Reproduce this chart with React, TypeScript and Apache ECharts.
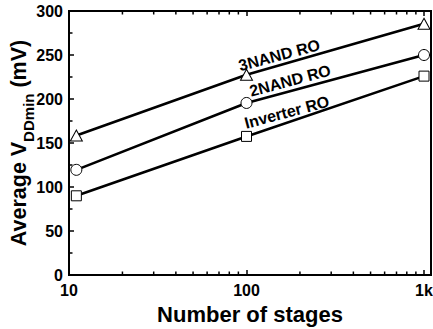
import React, { useEffect, useRef } from "react";
import * as echarts from "echarts";

const stages = [11, 100, 1000];
const inverterRO = [90, 157.5, 226];
const nand2RO = [119.5, 195.5, 250];
const nand3RO = [158.5, 227.5, 285.5];
const seriesNames = ["Inverter RO", "2NAND RO", "3NAND RO"];
const yTicks = { min: 0, max: 300, interval: 50 };
const xRange = { min: 10, max: 1095 };
const minorXTicks = [20, 30, 40, 50, 60, 70, 80, 90, 200, 300, 400, 500, 600, 700, 800, 900];
const xTickLabels: Record<number, string> = { 10: "10", 100: "100", 1000: "1k" };

const FONT = "'Liberation Sans', Arial, Helvetica, sans-serif";

export default function App() {
  const ref = useRef<HTMLDivElement>(null);
  useEffect(() => {
    if (!ref.current) return;
    const chart = echarts.init(ref.current, null, { renderer: "svg" });
    const pair = (vals: number[]) => stages.map((s, i) => [s, vals[i]]);
    const lineSeries = (
      name: string,
      vals: number[],
      symbol: string,
      symbolSize: any,
      labelPos: number[]
    ) => ({
      type: "line",
      name,
      data: pair(vals).map((d, i) =>
        i === 1
          ? {
              value: d,
              label: {
                show: true,
                formatter: name,
                position: labelPos,
                rotate: 15,
                align: "center",
                verticalAlign: "middle",
                fontSize: 16,
                fontWeight: "bold",
                fontFamily: FONT,
                color: "#000",
              },
            }
          : { value: d }
      ),
      symbol,
      symbolSize,
      showAllSymbol: true,
      lineStyle: { color: "#000", width: 2.6 },
      itemStyle: { color: "#fff", borderColor: "#000", borderWidth: 1 },
      z: 3,
    });

    const axisFont = { fontSize: 16, fontWeight: "bold", fontFamily: FONT, color: "#000" };

    chart.setOption({
      animation: false,
      textStyle: { fontFamily: FONT, color: "#000" },
      grid: {
        left: 69,
        right: 2,
        top: 11,
        bottom: 54,
        containLabel: false,
        outerBoundsMode: "none",
        show: true,
        borderColor: "#000",
        borderWidth: 2,
        backgroundColor: "transparent",
      },
      xAxis: [
        {
          type: "log",
          logBase: 10,
          min: xRange.min,
          max: xRange.max,
          position: "bottom",
          name: "Number of stages",
          nameLocation: "middle",
          nameGap: 28,
          nameMoveOverlap: false,
          nameTextStyle: { fontSize: 22, fontWeight: "bold", fontFamily: FONT, color: "#000" },
          axisLine: { show: true, lineStyle: { color: "#000", width: 2 } },
          axisTick: { show: true, inside: true, length: 5, lineStyle: { color: "#000", width: 1.5 } },
          axisLabel: {
            ...axisFont,
            margin: 7,
            showMaxLabel: false,
            formatter: (v: number) => xTickLabels[Math.round(v)] ?? "",
          },
          splitLine: { show: false },
        },
        {
          type: "log",
          logBase: 10,
          min: xRange.min,
          max: xRange.max,
          position: "top",
          axisLine: { show: true, lineStyle: { color: "#000", width: 2 } },
          axisTick: { show: true, inside: true, length: 5, lineStyle: { color: "#000", width: 1.5 } },
          axisLabel: { show: false },
          splitLine: { show: false },
        },
      ],
      yAxis: {
        type: "value",
        min: yTicks.min,
        max: yTicks.max,
        interval: yTicks.interval,
        name: "{a|Average V}{sub|DDmin}{a| (mV)}",
        nameLocation: "middle",
        nameGap: 33,
        nameMoveOverlap: false,
        nameTextStyle: {
          fontSize: 21.5,
          fontWeight: "bold",
          fontFamily: FONT,
          color: "#000",
          rich: {
            a: { fontSize: 21.5, fontWeight: "bold", fontFamily: FONT, color: "#000", lineHeight: 35 },
            sub: {
              fontSize: 15,
              fontWeight: "bold",
              fontFamily: FONT,
              color: "#000",
              lineHeight: 15,
              verticalAlign: "bottom",
            },
          },
        },
        axisLine: { show: true, lineStyle: { color: "#000", width: 2 } },
        axisTick: { show: true, inside: true, length: 5, lineStyle: { color: "#000", width: 1.5 } },
        minorTick: { show: true, splitNumber: 2, length: 3.5, lineStyle: { color: "#000", width: 1.5 } },
        axisLabel: { ...axisFont, margin: 6 },
        splitLine: { show: false },
      },
      series: [
        {
          type: "custom",
          xAxisIndex: 0,
          yAxisIndex: 0,
          silent: true,
          z: 1,
          data: minorXTicks.map((v) => [v, yTicks.min]),
          renderItem: (params: any, api: any) => {
            const v = api.value(0);
            const b = api.coord([v, yTicks.min]);
            const t = api.coord([v, yTicks.max]);
            const st = { stroke: "#000", lineWidth: 1.5 };
            return {
              type: "group",
              children: [
                { type: "line", shape: { x1: b[0], y1: b[1], x2: b[0], y2: b[1] - 3.5 }, style: st },
                { type: "line", shape: { x1: t[0], y1: t[1], x2: t[0], y2: t[1] + 3.5 }, style: st },
              ],
            };
          },
        },
        lineSeries(seriesNames[0], inverterRO, "rect", 10, [45.8, -18.7]),
        lineSeries(seriesNames[1], nand2RO, "circle", 11, [49.6, -16.3]),
        lineSeries(seriesNames[2], nand3RO, "triangle", [12, 11], [39.3, -13.6]),
      ],
    });
    return () => chart.dispose();
  }, []);
  return (
    <div
      ref={ref}
      style={{ position: "absolute", left: 0, top: 0, width: 433, height: 329 }}
    />
  );
}
